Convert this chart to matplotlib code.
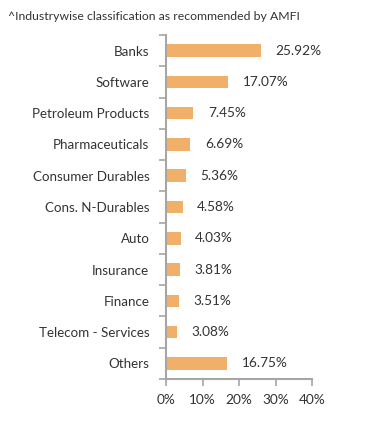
import matplotlib
matplotlib.use("Agg")
import matplotlib.pyplot as plt
import numpy as np

categories = ["Banks", "Software", "Petroleum Products", "Pharmaceuticals",
              "Consumer Durables", "Cons. N-Durables", "Auto", "Insurance",
              "Finance", "Telecom - Services", "Others"]
values = [25.92, 17.07, 7.45, 6.69, 5.36, 4.58, 4.03, 3.81, 3.51, 3.08, 16.75]
value_labels = ["25.92%", "17.07%", "7.45%", "6.69%", "5.36%", "4.58%",
                "4.03%", "3.81%", "3.51%", "3.08%", "16.75%"]
xticks = [0, 10, 20, 30, 40]
xtick_labels = ["0%", "10%", "20%", "30%", "40%"]
note = "^Industrywise classification as recommended by AMFI"

plt.rcParams['font.family'] = ['Lato', 'DejaVu Sans']
fig = plt.figure(figsize=(3.92, 4.33), dpi=100)
ax = fig.add_axes([166/392, 1-379/433, 146/392, (379-35)/433])

txt = "#333333"
n = len(categories)
y = np.arange(n)
ax.barh(y, values, height=0.4, color="#F0B06A")
ax.set_ylim(n-0.5, -0.5)
ax.set_xlim(0, 40)
ax.set_yticks(y)
ax.set_yticklabels(categories, fontsize=9.6, color=txt)
ax.tick_params(axis='y', length=0, pad=12)
ax.set_yticks(np.arange(-0.5, n, 1), minor=True)
ax.tick_params(axis='y', which='minor', length=5, color="#A6A6A6", width=1.2)
ax.set_xticks(xticks)
ax.set_xticklabels(xtick_labels, fontsize=9.8, color=txt)
ax.tick_params(axis='x', length=5, color="#A6A6A6", width=1.2, pad=6)
for s in ["top", "right"]:
    ax.spines[s].set_visible(False)
for s in ["left", "bottom"]:
    ax.spines[s].set_color("#A6A6A6")
    ax.spines[s].set_linewidth(1.5)

for yi, v, lab in zip(y, values, value_labels):
    ax.annotate(lab, (v, yi), xytext=(10.5, 0), textcoords="offset points",
                va="center", ha="left", fontsize=9.8, color=txt)

fig.text(8/392, 1-17/433, note, fontsize=8.8, color=txt, va="center", ha="left")
fig.savefig("out.png", dpi=100)
